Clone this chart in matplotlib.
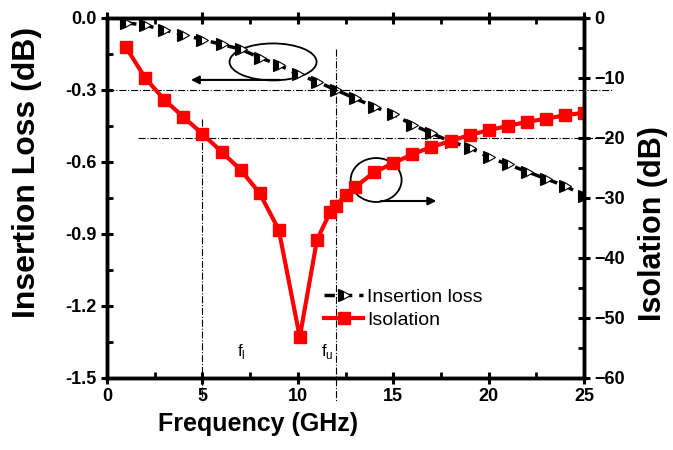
import numpy as np
import matplotlib
matplotlib.use('Agg')
import matplotlib.pyplot as plt
from matplotlib.patches import Ellipse
from matplotlib.ticker import MultipleLocator

plt.rcParams['font.family'] = ['Liberation Sans', 'DejaVu Sans']
plt.rcParams['mathtext.fontset'] = 'custom'
plt.rcParams['mathtext.rm'] = 'Liberation Sans'

# data
freq_il = list(range(1, 26))
insertion_loss = [-0.02, -0.03, -0.05, -0.07, -0.09, -0.11, -0.13, -0.165, -0.195,
                  -0.235, -0.265, -0.30, -0.335, -0.37, -0.40, -0.445, -0.48,
                  -0.515, -0.54, -0.58, -0.61, -0.64, -0.67, -0.70, -0.74]

freq_iso = [1, 2, 3, 4, 5, 6, 7, 8, 9, 10.1, 11, 11.7, 12, 12.5,
            13, 14, 15, 16, 17, 18, 19, 20, 21, 22, 23, 24, 25]
isolation = [-4.9, -10.0, -13.6, -16.5, -19.3, -22.3, -25.3, -29.2, -35.3, -53.2,
             -37.0, -32.3, -31.3, -29.5, -28.2, -25.7, -24.2, -22.7, -21.5,
             -20.5, -19.5, -18.7, -18.0, -17.3, -16.8, -16.2, -15.8]

fig = plt.figure(figsize=(6.73, 4.5), dpi=100)
ax = fig.add_axes([0.159, 0.16, 0.709, 0.80])
ax2 = ax.twinx()

l1, = ax.plot(freq_il, insertion_loss, color='black', ls='--', dashes=(3, 2), lw=2.5,
              marker='>', ms=9, fillstyle='left', markerfacecolor='black',
              markerfacecoloralt='white', markeredgecolor='black', markeredgewidth=0.8,
              label='Insertion loss')
l2, = ax2.plot(freq_iso, isolation, color='red', lw=3, marker='s', ms=8,
               label='Isolation')

ax.set_xlim(0, 25)
ax.set_ylim(-1.5, 0)
ax2.set_ylim(-60, 0)
ax.set_xticks(range(0, 26, 5))
ax.set_yticks(np.arange(-1.5, 0.01, 0.3))
ax.set_yticklabels(['%.1f' % v for v in np.arange(-1.5, 0.01, 0.3)])
ax2.set_yticks(range(-60, 1, 10))
ax.xaxis.set_minor_locator(MultipleLocator(2.5))
ax.yaxis.set_minor_locator(MultipleLocator(0.15))
ax2.yaxis.set_minor_locator(MultipleLocator(5))

for a in (ax, ax2):
    for s in a.spines.values():
        s.set_linewidth(2.5)
    a.tick_params(which='major', direction='inout', length=8, width=2.2,
                  labelsize=13)
    a.tick_params(which='minor', direction='in', length=4, width=2)
ax.tick_params(top=True, which='both')
for lab in ax.get_xticklabels() + ax.get_yticklabels() + ax2.get_yticklabels():
    lab.set_fontweight('bold')

ax.set_xlabel('Frequency (GHz)', fontsize=18, fontweight='bold')
ax.xaxis.set_label_coords(0.317, -0.094)
ax.set_ylabel('Insertion Loss (dB)', fontsize=23, fontweight='bold')
ax.yaxis.set_label_coords(-0.136, 0.572)
ax2.set_ylabel('Isolation (dB)', fontsize=22, fontweight='bold')
ax2.yaxis.set_label_coords(1.112, 0.43)

# guide lines
dd = dict(color='black', lw=0.8, ls='-.', clip_on=False)
ax.plot([0, 26.5], [-0.3, -0.3], **dd)
ax.plot([1.6, 26.5], [-0.5, -0.5], **dd)
ax.plot([5, 5], [-0.42, -1.60], **dd)
ax.plot([12, 12], [-0.13, -1.60], **dd)

# ellipses and arrows
ax.add_patch(Ellipse((8.7, -0.183), 4.56, 0.154, fill=False, lw=1.3, ec='black'))
ax.add_patch(Ellipse((14.1, -0.675), 2.67, 0.183, fill=False, lw=1.3, ec='black'))
ap = dict(arrowstyle='-|>', color='black', lw=1.5, mutation_scale=12)
ax.annotate('', xy=(4.25, -0.258), xytext=(9.2, -0.258), arrowprops=ap)
ax.annotate('', xy=(17.4, -0.7625), xytext=(14.2, -0.7625), arrowprops=ap)

ax.text(6.8, -1.41, r'f$_\mathregular{l}$', fontsize=12)
ax.text(11.2, -1.41, r'f$_\mathregular{u}$', fontsize=12)

ax2.legend(handles=[l1, l2], loc='upper left', bbox_to_anchor=(0.455, 0.25),
           frameon=False, fontsize=14, handlelength=2.0, handletextpad=0.2,
           labelspacing=0.3, borderpad=0, borderaxespad=0)

fig.savefig('out.png', dpi=100)
